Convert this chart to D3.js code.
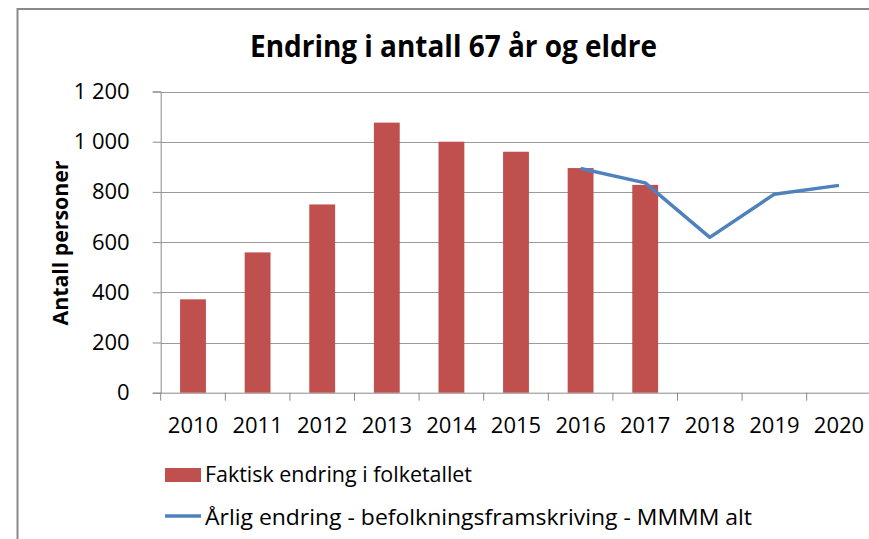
<!DOCTYPE html>
<html>
<head>
<meta charset="utf-8">
<script src="https://cdn.jsdelivr.net/npm/d3@7.9.0/dist/d3.min.js"></script>
<style>
  body { margin: 0; background: #fff; }
  svg { display: block; font-family: "Open Sans", sans-serif; }
</style>
</head>
<body>
<svg width="869" height="539"></svg>
<script>
const years = ['2010', '2011', '2012', '2013', '2014', '2015', '2016', '2017', '2018', '2019', '2020'];
const faktiskYears = ['2010', '2011', '2012', '2013', '2014', '2015', '2016', '2017'];
const faktisk = [372, 559, 750, 1076, 1000, 960, 895, 828];
const framYears = ['2016', '2017', '2018', '2019', '2020'];
const framskriving = [893, 836, 619, 791, 826];
const yTicks = [0, 200, 400, 600, 800, 1000, 1200];

const svg = d3.select('svg');
const plotLeft = 160.7, plotRight = 871.3, plotTop = 91.5, plotBottom = 392.7;

const x = d3.scaleBand().domain(years).range([plotLeft, plotRight]).padding(0);
const y = d3.scaleLinear().domain([0, 1200]).range([plotBottom, plotTop]);
const nb = d3.formatLocale({ decimal: ',', thousands: '\u00a0', grouping: [3], currency: ['', ''] });
const fmt = nb.format(',d');

// chart border (cropped on right and bottom)
svg.append('path')
  .attr('d', 'M17.5,545 L17.5,9 L875,9')
  .attr('fill', 'none')
  .attr('stroke', '#8a8a8a')
  .attr('stroke-width', 2);

// gridlines
svg.append('g')
  .selectAll('line')
  .data(yTicks.filter(d => d > 0))
  .join('line')
  .attr('x1', plotLeft).attr('x2', plotRight)
  .attr('y1', d => Math.round(y(d)) + 0.5).attr('y2', d => Math.round(y(d)) + 0.5)
  .attr('stroke', '#9a9a9a');

// y axis
const yAxis = svg.append('g')
  .attr('transform', `translate(${plotLeft},0)`)
  .call(d3.axisLeft(y).tickValues(yTicks).tickFormat(fmt).tickSize(8).tickPadding(23));
yAxis.select('.domain').attr('stroke', '#8a8a8a');
yAxis.selectAll('.tick line').attr('stroke', '#8a8a8a');
yAxis.selectAll('text')
  .attr('font-size', 22)
  .attr('fill', '#000')
  .attr('font-family', '"Open Sans", sans-serif');

// x axis
const xAxis = svg.append('g')
  .attr('transform', `translate(0,${plotBottom})`)
  .call(d3.axisBottom(x).tickSize(0).tickPadding(25));
xAxis.select('.domain').attr('stroke', '#8a8a8a');
xAxis.selectAll('text')
  .attr('font-size', 22)
  .attr('fill', '#000')
  .attr('font-family', '"Open Sans", sans-serif');
svg.append('g')
  .selectAll('line')
  .data(years.concat(['end']))
  .join('line')
  .attr('x1', (d, i) => plotLeft + i * x.step())
  .attr('x2', (d, i) => plotLeft + i * x.step())
  .attr('y1', plotBottom).attr('y2', plotBottom + 8)
  .attr('stroke', '#8a8a8a');

// bars
const bw = x.bandwidth() * 0.4;
svg.append('g')
  .selectAll('rect')
  .data(faktisk)
  .join('rect')
  .attr('x', (d, i) => x(faktiskYears[i]) + (x.bandwidth() - bw) / 2)
  .attr('y', d => y(d))
  .attr('width', bw)
  .attr('height', d => plotBottom - y(d))
  .attr('fill', '#c0504d');

// line
const line = d3.line()
  .x((d, i) => x(framYears[i]) + x.bandwidth() / 2)
  .y(d => y(d));
svg.append('path')
  .datum(framskriving)
  .attr('d', line)
  .attr('fill', 'none')
  .attr('stroke', '#4f81bd')
  .attr('stroke-width', 3.5)
  .attr('stroke-linejoin', 'round');

// title
svg.append('text')
  .attr('x', 250).attr('y', 57)
  .attr('font-size', 30)
  .attr('font-weight', 'bold')
  .attr('textLength', 407)
  .attr('lengthAdjust', 'spacingAndGlyphs')
  .text('Endring i antall 67 år og eldre');

// y axis title
svg.append('text')
  .attr('transform', 'translate(68,243) rotate(-90)')
  .attr('text-anchor', 'middle')
  .attr('font-size', 21)
  .attr('font-weight', 'bold')
  .attr('textLength', 165)
  .attr('lengthAdjust', 'spacingAndGlyphs')
  .text('Antall personer');

// legend
const legend = svg.append('g');
legend.append('rect')
  .attr('x', 165).attr('y', 468).attr('width', 36).attr('height', 14)
  .attr('fill', '#c0504d');
legend.append('text')
  .attr('x', 205).attr('y', 482)
  .attr('font-size', 22)
  .attr('textLength', 267)
  .attr('lengthAdjust', 'spacingAndGlyphs')
  .text('Faktisk endring i folketallet');
legend.append('line')
  .attr('x1', 165).attr('x2', 201).attr('y1', 516).attr('y2', 516)
  .attr('stroke', '#4f81bd').attr('stroke-width', 3.5);
legend.append('text')
  .attr('x', 205).attr('y', 525)
  .attr('font-size', 22)
  .attr('textLength', 547)
  .attr('lengthAdjust', 'spacingAndGlyphs')
  .text('Årlig endring - befolkningsframskriving - MMMM alt');
</script>
</body>
</html>
